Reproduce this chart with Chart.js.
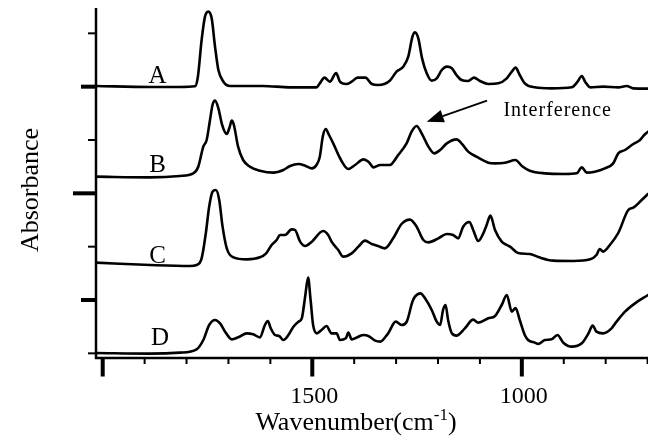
<!DOCTYPE html>
<html>
<head>
<meta charset="utf-8">
<title>FTIR spectra A–D</title>
<script src="https://cdn.jsdelivr.net/npm/chart.js@4.4.0/dist/chart.umd.min.js"></script>
<style>
  html, body { margin: 0; padding: 0; background: #ffffff; }
  #wrap { width: 648px; height: 443px; position: relative; }
</style>
</head>
<body>
<div id="wrap"><canvas id="spectra" width="648" height="443"></canvas></div>
<script>
// ---- spectra (wavenumber in cm-1, absorbance in arbitrary units above each trace's own baseline)
const seriesNames = ['A', 'B', 'C', 'D'];
const baselineOffsets = [80, 53, 27, 0];

const wavenumbersA = [2016,1887,1816,1780,1773,1764,1756,1748,1740,1732,1724,1712,1696,1618,1553,1490,1482,1471,1458,1443,1434,1419,1406,1392,1373,1358,1343,1315,1299,1283,1271,1261,1255,1247,1238,1227,1215,1203,1191,1179,1167,1156,1144,1128,1114,1100,1080,1056,1036,1024,1015,1005,993,969,929,881,867,857,849,837,806,770,750,734,699];
const absorbanceA  = [0.2,-0.1,-0.1,0.1,2.9,14.0,21.0,22.5,20.5,12.0,5.0,1.5,0.2,0.2,-0.2,-0.2,1.0,2.7,1.5,4.1,1.5,0.8,1.5,2.7,2.7,0.8,0.5,1.8,4.5,6.0,9.0,15.0,16.3,14.5,8.5,4.0,1.8,2.5,5.0,6.0,5.5,3.5,2.0,1.7,2.7,1.7,0.8,1.0,2.5,4.5,5.7,3.5,1.0,-0.2,-0.5,-0.2,1.5,3.2,1.5,-0.2,0.0,-0.2,0.2,-0.5,-0.6];

const wavenumbersB = [2016,1887,1816,1784,1772,1760,1752,1744,1738,1732,1724,1715,1704,1698,1692,1687,1677,1665,1649,1625,1593,1569,1553,1533,1517,1501,1490,1482,1475,1468,1460,1450,1434,1414,1398,1378,1366,1354,1338,1315,1295,1275,1263,1251,1239,1223,1209,1195,1179,1156,1144,1128,1108,1080,1064,1040,1015,1000,981,945,897,869,857,845,826,802,782,770,754,734,718,708,699];
const absorbanceB  = [0,-0.2,0.2,1.0,3.0,9.0,11.0,17.0,21.5,22.8,20.5,15.5,12.8,14.5,16.8,15.5,9.0,5.0,3.0,1.8,1.2,2.0,3.2,3.8,3.3,2.5,3.5,6.0,12.0,14.3,12.5,10.0,5.6,2.3,3.5,5.2,4.5,2.8,3.5,3.5,6.5,10.0,13.5,15.2,13.0,9.0,7.0,8.0,10.0,11.2,10.0,7.5,6.0,4.2,4.0,4.2,5.0,3.2,1.8,1.0,0.8,1.0,2.8,1.2,1.5,2.5,4.0,7.0,8.0,9.8,11.0,12.5,13.5];

const wavenumbersC = [2016,1887,1792,1776,1764,1754,1746,1738,1730,1722,1714,1704,1688,1656,1625,1610,1597,1585,1577,1565,1549,1541,1529,1517,1501,1474,1462,1454,1438,1426,1406,1390,1374,1358,1343,1327,1307,1287,1267,1251,1235,1223,1199,1179,1164,1152,1140,1125,1116,1104,1092,1084,1075,1064,1048,1036,1028,1009,981,961,925,877,837,822,814,806,790,770,746,734,714,699];
const absorbanceC  = [0.2,-0.5,-0.8,-0.5,1.5,9.0,17.0,21.5,22.0,19.0,11.0,4.5,1.8,1.2,1.8,3.0,5.5,7.0,8.5,8.5,10.2,10.0,6.5,5.2,6.5,9.7,8.5,6.5,4.0,2.0,3.0,5.0,6.8,5.8,5.2,4.5,7.5,11.8,13.1,11.0,7.0,6.3,7.5,8.8,8.5,7.5,11.0,12.4,10.0,6.7,9.0,11.5,14.3,10.0,6.5,5.5,5.0,3.1,2.8,1.9,0.8,0.7,1.2,2.5,4.3,3.5,5.5,9.1,16.0,16.7,19.0,20.8];

const wavenumbersD = [2016,1887,1816,1776,1760,1746,1732,1720,1708,1692,1677,1656,1641,1625,1613,1606,1599,1589,1579,1569,1557,1545,1533,1525,1517,1510,1504,1498,1489,1478,1466,1454,1442,1434,1420,1414,1406,1390,1378,1366,1350,1338,1319,1301,1287,1275,1261,1255,1242,1231,1215,1203,1195,1188,1182,1176,1167,1156,1136,1116,1104,1080,1064,1048,1036,1024,1015,1005,993,985,969,961,945,929,915,901,881,857,841,831,822,806,786,774,754,730,699];
const absorbanceD  = [0.1,-0.1,0.2,1.2,4.0,8.5,10.0,9.0,6.5,4.2,4.8,6.0,5.7,4.8,8.5,9.7,7.5,5.5,5.2,4.0,5.5,8.0,9.5,10.5,17.0,22.7,16.0,8.5,6.0,7.0,8.2,6.0,6.0,4.0,4.5,6.2,4.2,5.0,5.5,5.2,3.8,3.5,6.0,9.5,8.5,9.4,15.5,17.0,18.0,16.5,13.0,9.5,8.5,13.0,14.5,10.0,6.0,5.3,7.5,10.1,9.2,10.5,11.2,14.5,17.5,12.5,13.6,10.0,5.5,4.0,3.2,2.8,4.0,4.2,5.5,3.2,2.0,3.0,6.0,8.3,6.5,6.0,7.5,9.5,12.5,15.0,17.5];

// ---- axis ticks
const xMajorTicks = [2000, 1500, 1000];
const xMinorStep = 100;
const xTickLabels = ['1500', '1000'];
const xTickLabelValues = [1500, 1000];
const yTickValues = [0, 16, 32, 48, 64, 80, 96];
const yMajorTicks = [16, 48, 80];
const yLongTick = 48;

// ---- layout of text and annotation (data coordinates)
const seriesLabelAt = [
  { x: 1869, y: 81.0 },
  { x: 1869, y: 54.5 },
  { x: 1869, y: 27.2 },
  { x: 1863, y: 2.5 }
];
const annotation = { text: 'Interference', textAt: { x: 1044, y: 71.2 }, tail: { x: 1083, y: 75.8 }, tip: { x: 1227, y: 69.5 } };

const INK = '#000000';
const SERIF = '"Liberation Serif", "Times New Roman", "DejaVu Serif", serif';

const spectra = [
  [wavenumbersA, absorbanceA],
  [wavenumbersB, absorbanceB],
  [wavenumbersC, absorbanceC],
  [wavenumbersD, absorbanceD]
];

const datasets = spectra.map(([wn, ab], i) => ({
  label: seriesNames[i],
  data: wn.map((x, k) => ({ x: x, y: baselineOffsets[i] + ab[k] })),
  borderColor: INK,
  borderWidth: 2.6,
  pointRadius: 0,
  fill: false,
  tension: 0.4,
  cubicInterpolationMode: 'monotone',
  borderJoinStyle: 'round',
  borderCapStyle: 'round'
}));

// Draws the frame, ticks, tick labels, axis titles, trace letters and the arrow note.
const framePlugin = {
  id: 'framePlugin',
  afterDatasetsDraw(chart) {
    const { ctx, chartArea: a, scales: { x, y } } = chart;
    ctx.save();
    ctx.fillStyle = INK;
    ctx.strokeStyle = INK;

    // axis lines
    ctx.lineWidth = 2.5;
    ctx.lineJoin = 'miter';
    ctx.beginPath();
    ctx.moveTo(a.left, a.top);
    ctx.lineTo(a.left, a.bottom);
    ctx.lineTo(a.right, a.bottom);
    ctx.stroke();

    // x ticks (outward, below the axis)
    const xLow = Math.ceil(x.min / xMinorStep) * xMinorStep;
    for (let v = xLow; v <= x.max; v += xMinorStep) {
      const px = x.getPixelForValue(v);
      if (xMajorTicks.includes(v)) {
        ctx.fillRect(px - 2, a.bottom, 4, 18.5);
      } else {
        ctx.fillRect(px - 1, a.bottom, 2, 6);
      }
    }

    // y ticks (outward, left of the axis)
    yTickValues.forEach(v => {
      const py = y.getPixelForValue(v);
      if (v === yLongTick) {
        ctx.fillRect(a.left - 23, py - 2, 23, 4);
      } else if (yMajorTicks.includes(v)) {
        ctx.fillRect(a.left - 15, py - 2, 15, 4);
      } else {
        ctx.fillRect(a.left - 8, py - 1, 8, 2);
      }
    });

    // x tick labels
    ctx.font = '24px ' + SERIF;
    ctx.textAlign = 'center';
    ctx.textBaseline = 'alphabetic';
    xTickLabelValues.forEach((v, i) => {
      ctx.fillText(xTickLabels[i], x.getPixelForValue(v) + 2, a.bottom + 45);
    });

    // x axis title with superscript
    const mainFont = '26px ' + SERIF;
    const supFont = '17px ' + SERIF;
    const partA = 'Wavenumber(cm', partSup = '-1', partB = ')';
    ctx.font = mainFont;
    const wA = ctx.measureText(partA).width;
    const wB = ctx.measureText(partB).width;
    ctx.font = supFont;
    const wS = ctx.measureText(partSup).width;
    const total = wA + wS + wB;
    const cx = (a.left + a.right) / 2 - 16;
    let tx = cx - total / 2;
    const baseY = a.bottom + 72;
    ctx.textAlign = 'left';
    ctx.font = mainFont;
    ctx.fillText(partA, tx, baseY);
    tx += wA;
    ctx.font = supFont;
    ctx.fillText(partSup, tx, baseY - 10);
    tx += wS;
    ctx.font = mainFont;
    ctx.fillText(partB, tx, baseY);

    // y axis title
    ctx.save();
    ctx.translate(38, (a.top + a.bottom) / 2 + 7);
    ctx.rotate(-Math.PI / 2);
    ctx.font = '26px ' + SERIF;
    ctx.textAlign = 'center';
    ctx.fillText('Absorbance', 0, 0);
    ctx.restore();

    // trace letters
    ctx.font = '25px ' + SERIF;
    ctx.textAlign = 'center';
    seriesNames.forEach((name, i) => {
      const p = seriesLabelAt[i];
      ctx.fillText(name, x.getPixelForValue(p.x), y.getPixelForValue(p.y));
    });

    // annotation arrow
    const tx0 = x.getPixelForValue(annotation.tail.x), ty0 = y.getPixelForValue(annotation.tail.y);
    const tx1 = x.getPixelForValue(annotation.tip.x), ty1 = y.getPixelForValue(annotation.tip.y);
    const ang = Math.atan2(ty1 - ty0, tx1 - tx0);
    const headLen = 17, headHalf = 6.5;
    const bx = tx1 - headLen * Math.cos(ang), by = ty1 - headLen * Math.sin(ang);
    ctx.lineWidth = 1.8;
    ctx.beginPath();
    ctx.moveTo(tx0, ty0);
    ctx.lineTo(bx, by);
    ctx.stroke();
    ctx.beginPath();
    ctx.moveTo(tx1, ty1);
    ctx.lineTo(bx + headHalf * Math.sin(ang), by - headHalf * Math.cos(ang));
    ctx.lineTo(bx - headHalf * Math.sin(ang), by + headHalf * Math.cos(ang));
    ctx.closePath();
    ctx.fill();

    // annotation text
    ctx.font = '20px ' + SERIF;
    ctx.textAlign = 'left';
    if ('letterSpacing' in ctx) ctx.letterSpacing = '1px';
    ctx.fillText(annotation.text, x.getPixelForValue(annotation.textAt.x), y.getPixelForValue(annotation.textAt.y));
    ctx.restore();
  }
};

new Chart(document.getElementById('spectra'), {
  type: 'line',
  data: { datasets: datasets },
  options: {
    responsive: false,
    animation: false,
    devicePixelRatio: 1,
    layout: { padding: { left: 96, right: 0, top: 8, bottom: 85 } },
    scales: {
      x: { type: 'linear', reverse: true, min: 699, max: 2016, display: false },
      y: { type: 'linear', min: -1.4, max: 103.6, display: false }
    },
    plugins: {
      legend: { display: false },
      tooltip: { enabled: false }
    },
    elements: { line: { borderColor: INK } }
  },
  plugins: [framePlugin]
});
</script>
</body>
</html>
